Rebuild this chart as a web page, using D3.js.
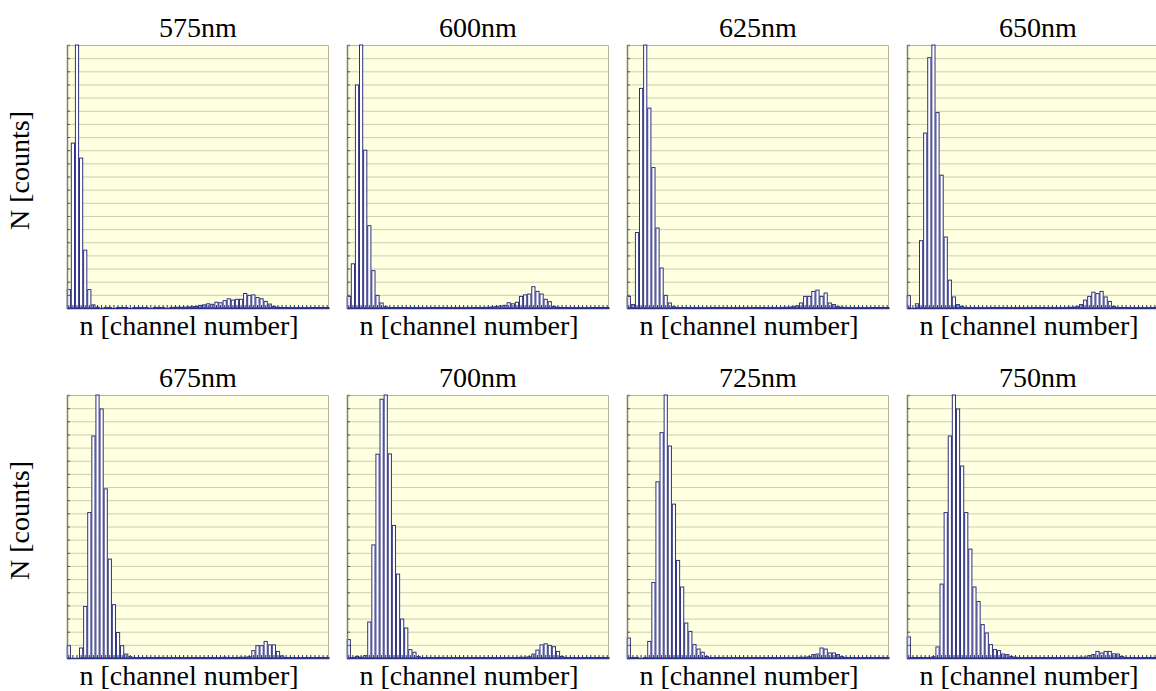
<!DOCTYPE html>
<html>
<head>
<meta charset="utf-8">
<script src="https://cdn.jsdelivr.net/npm/d3@7"></script>
<style>
  html, body { margin: 0; padding: 0; background: #ffffff; }
  svg { display: block; }
  .lbl { font-family: "Liberation Serif", "DejaVu Serif", serif; }
</style>
</head>
<body>
<svg id="chart" width="1156" height="691"></svg>
<script>
// Pulse-height spectra, 64 ADC channels per wavelength (relative counts, peak = 1000)
const wavelengths = ["575nm", "600nm", "625nm", "650nm", "675nm", "700nm", "725nm", "750nm"];

const counts575 = [70, 627, 1000, 570, 220, 70, 12, 3, 0, 2, 2, 0, 2, 2, 2, 0,
  2, 2, 2, 2, 0, 2, 2, 2, 0, 2, 3, 3, 3, 4, 5, 6,
  10, 12, 16, 14, 22, 20, 28, 35, 30, 33, 33, 55, 48, 50, 40, 35,
  25, 15, 6, 3, 2, 2, 2, 2, 2, 2, 2, 2, 2, 2, 2, 2];

const counts600 = [44, 168, 848, 1000, 600, 313, 142, 48, 19, 5, 2, 2, 2, 2, 2, 2,
  2, 2, 2, 2, 2, 2, 2, 2, 2, 2, 2, 2, 2, 2, 2, 2,
  2, 2, 3, 4, 6, 8, 10, 20, 16, 22, 44, 50, 53, 81, 63, 53,
  33, 24, 6, 3, 2, 2, 2, 2, 2, 2, 2, 2, 2, 2, 2, 2];

const counts625 = [44, 13, 287, 835, 1000, 760, 534, 304, 152, 48, 19, 5, 2, 2, 2, 2,
  2, 2, 2, 2, 2, 2, 2, 2, 2, 2, 2, 2, 2, 2, 2, 2,
  2, 2, 2, 2, 2, 2, 3, 3, 5, 8, 19, 44, 44, 63, 68, 44,
  57, 19, 13, 5, 3, 2, 2, 2, 2, 2, 2, 2, 2, 2, 2, 2];

const counts650 = [47, 0, 16, 256, 665, 952, 1000, 743, 505, 270, 106, 42, 13, 6, 2, 2,
  2, 2, 2, 2, 2, 2, 2, 2, 2, 2, 2, 2, 2, 2, 2, 2,
  2, 2, 2, 2, 2, 2, 2, 3, 3, 5, 13, 30, 44, 60, 55, 63,
  42, 25, 6, 2, 2, 2, 2, 2, 2, 2, 2, 2, 2, 2, 2, 2];

const counts675 = [47, 0, 0, 38, 196, 553, 844, 1000, 947, 643, 376, 203, 97, 47, 15, 5,
  2, 2, 2, 2, 2, 2, 2, 2, 2, 2, 2, 2, 2, 2, 2, 2,
  2, 2, 2, 2, 2, 2, 3, 2, 2, 2, 3, 3, 5, 28, 47, 47,
  63, 50, 50, 25, 8, 2, 2, 2, 2, 2, 2, 2, 2, 2, 2, 2];

const counts700 = [70, 2, 6, 3, 9, 137, 430, 775, 984, 1000, 776, 504, 319, 148, 114, 32,
  22, 6, 2, 2, 2, 2, 2, 2, 2, 2, 2, 2, 2, 2, 2, 2,
  2, 2, 2, 2, 2, 2, 2, 2, 2, 2, 3, 3, 5, 15, 30, 50,
  54, 48, 43, 25, 6, 2, 2, 2, 2, 2, 2, 2, 2, 2, 2, 2];

const counts725 = [76, 2, 2, 0, 2, 63, 287, 670, 857, 1000, 806, 585, 371, 270, 133, 101,
  51, 34, 22, 6, 2, 2, 2, 2, 2, 2, 2, 2, 2, 2, 2, 2,
  2, 2, 2, 2, 2, 2, 2, 2, 2, 2, 3, 3, 5, 13, 15, 38,
  34, 19, 19, 13, 5, 2, 2, 2, 2, 2, 2, 2, 2, 2, 2, 2];

const counts750 = [80, 2, 2, 2, 2, 2, 5, 42, 281, 553, 844, 1000, 947, 730, 553, 414,
  270, 215, 127, 95, 51, 32, 28, 15, 13, 6, 3, 2, 2, 2, 2, 2,
  2, 2, 2, 2, 2, 2, 2, 2, 2, 2, 3, 3, 9, 13, 25, 19,
  25, 25, 16, 15, 6, 2, 2, 2, 2, 2, 2, 2, 2, 2, 2, 2];

const spectra = [counts575, counts600, counts625, counts650, counts675, counts700, counts725, counts750];

const xLabel = "n [channel number]";
const yLabel = "N [counts]";

// layout
const panelW = 262, panelH = 263;
const colX = [67, 347, 627, 907];
const rowY = [45, 395];
const gridSteps = 20;

const svg = d3.select("#chart");

spectra.forEach((data, i) => {
  const col = i % 4, row = Math.floor(i / 4);
  const g = svg.append("g").attr("transform", `translate(${colX[col]},${rowY[row]})`);
  const channels = d3.range(data.length);

  const x = d3.scaleBand().domain(channels).range([0, panelW]).paddingInner(0.22).paddingOuter(0.05);
  const yMax = d3.max(data);
  const y = d3.scaleLinear().domain([0, yMax]).range([panelH, 0]);
  const gridVals = d3.range(1, gridSteps).map(k => yMax * k / gridSteps);

  // plot area
  g.append("rect")
    .attr("x", 0).attr("y", 0).attr("width", panelW).attr("height", panelH)
    .attr("fill", "#ffffe1").attr("stroke", "none");

  // horizontal grid
  const grid = g.append("g").call(d3.axisLeft(y).tickValues(gridVals).tickSize(-panelW).tickFormat(""));
  grid.select(".domain").remove();
  grid.selectAll("line").attr("stroke", "#cdcdae").attr("stroke-width", 1);

  // frame (top and right)
  g.append("path")
    .attr("d", `M0.5,0.5H${panelW - 0.5}V${panelH}`)
    .attr("fill", "none").attr("stroke", "#b4b49c").attr("stroke-width", 1);

  // bars
  g.append("g").selectAll("rect")
    .data(data)
    .join("rect")
    .attr("x", (d, k) => x(k))
    .attr("y", d => y(d))
    .attr("width", x.bandwidth())
    .attr("height", d => panelH - y(d))
    .attr("fill", "#ffffff")
    .attr("stroke", "#2c3181")
    .attr("stroke-width", 1);

  // y axis with inward ticks
  const yAxis = g.append("g").call(d3.axisLeft(y).tickValues(gridVals).tickSize(-3).tickFormat(""));
  yAxis.select(".domain").attr("stroke", "#80806a").attr("stroke-width", 1.5);
  yAxis.selectAll("line").attr("stroke", "#5a5a50");

  // x axis with inward ticks at every channel
  const xAxis = g.append("g").attr("transform", `translate(0,${panelH})`)
    .call(d3.axisBottom(x).tickSize(-3).tickFormat("").tickSizeOuter(0));
  xAxis.select(".domain").attr("stroke", "#2c3181").attr("stroke-width", 1.5);
  xAxis.selectAll("line").attr("stroke", "#2c3181");

  // titles and labels
  g.append("text")
    .attr("class", "lbl")
    .attr("font-family", "Liberation Serif")
    .attr("x", panelW / 2).attr("y", -8)
    .attr("text-anchor", "middle")
    .attr("font-size", 28)
    .attr("fill", "#000")
    .text(wavelengths[i]);

  g.append("text")
    .attr("class", "lbl")
    .attr("font-family", "Liberation Serif")
    .attr("x", panelW / 2 - 9).attr("y", panelH + 27)
    .attr("text-anchor", "middle")
    .attr("font-size", 28)
    .attr("fill", "#000")
    .text(xLabel);

  if (col === 0) {
    g.append("text")
      .attr("class", "lbl")
      .attr("font-family", "Liberation Serif")
      .attr("transform", `translate(${-38},${panelH / 2 - 6}) rotate(-90)`)
      .attr("text-anchor", "middle")
      .attr("font-size", 28)
      .attr("fill", "#000")
      .text(yLabel);
  }
});
</script>
</body>
</html>
